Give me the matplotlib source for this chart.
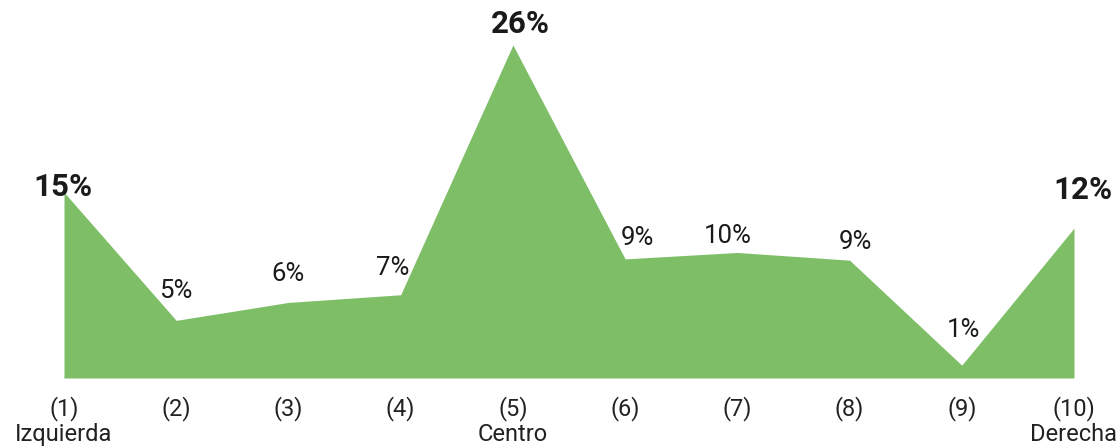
import matplotlib.pyplot as plt
import numpy as np

plt.rcParams['font.family'] = ['Roboto', 'DejaVu Sans']

posiciones = np.arange(1, 11)
valores = [14.5, 4.5, 5.9, 6.5, 26.0, 9.3, 9.8, 9.2, 1.0, 11.7]
etiquetas = ['15%', '5%', '6%', '7%', '26%', '9%', '10%', '9%', '1%', '12%']
destacadas = [True, False, False, False, True, False, False, False, False, True]
ticks = ['(1)\nIzquierda', '(2)', '(3)', '(4)', '(5)\nCentro',
         '(6)', '(7)', '(8)', '(9)', '(10)\nDerecha']

# desplazamiento de cada etiqueta (en px) respecto al punto
desp = [(-1, 5), (0, 29), (0, 28), (-8, 27), (7, 21),
        (12, 21), (-10, 16), (6, 18), (2, 35), (9, 38)]

verde = '#7dbe67'

fig = plt.figure(figsize=(11.2, 4.47), dpi=100)
ax = fig.add_axes([64 / 1120, 69 / 447, 1010 / 1120, 333 / 447])

ax.fill_between(posiciones, valores, 0, color=verde, linewidth=0)
ax.axhline(0, color='#d9d9d9', linewidth=2.5, zorder=0)

for x, v, t, b, (dx, dy) in zip(posiciones, valores, etiquetas, destacadas, desp):
    ax.annotate(t, (x, v), xytext=(dx * 0.72, dy * 0.72), textcoords='offset points',
                ha='center', va='center',
                fontsize=22.5 if b else 18.5,
                fontweight='bold' if b else 'normal',
                color='#1a1a1a')

ax.set_xlim(1, 10)
ax.set_ylim(0, 26)
ax.set_xticks(posiciones)
ax.set_xticklabels(ticks, fontsize=17, color='#222222', linespacing=1.12)
ax.tick_params(axis='x', length=0, pad=13)
ax.set_yticks([])
for s in ax.spines.values():
    s.set_visible(False)

fig.savefig('out.png', dpi=100)
